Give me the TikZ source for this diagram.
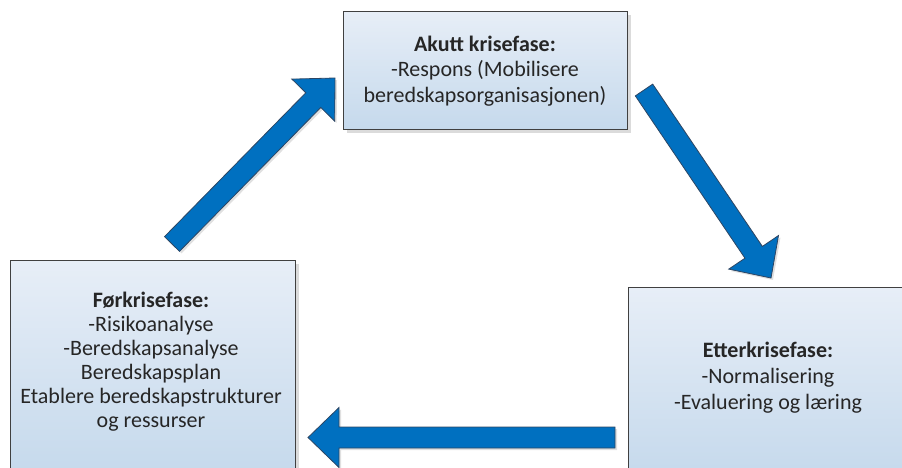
\documentclass[tikz,border=0pt]{standalone}
\usepackage{fontspec}
\setmainfont{Carlito}
\usetikzlibrary{calc,shadows}

\definecolor{arrowblue}{RGB}{0,112,192}
\definecolor{arrowedge}{RGB}{45,70,100}
\definecolor{boxtop}{RGB}{231,238,247}
\definecolor{boxbottom}{RGB}{197,217,236}
\definecolor{boxedge}{RGB}{64,64,64}

\tikzset{
  phase/.style={draw=boxedge, line width=1.3pt, top color=boxtop, bottom color=boxbottom,
    inner sep=0pt, anchor=north west,
    drop shadow={shadow xshift=3pt, shadow yshift=-3pt, fill=black!20, opacity=0.7}},
  phasetext/.style={align=center, text=black!85, inner sep=0pt},
  fat/.style={fill=arrowblue, draw=arrowedge, line width=0.8pt, line join=miter,
    drop shadow={shadow xshift=2pt, shadow yshift=-2pt, fill=black!20, opacity=0.6}}
}

% block arrow from a tail point to a tip point
\newcommand\fatarrow[2]{%
  \coordinate (hb) at ($(#2)!31pt!(#1)$);
  \draw[fat] ($(#1)!10.5pt!90:(#2)$) -- ($(hb)!10.5pt!-90:(#1)$)
    -- ($(hb)!30pt!-90:(#1)$) -- (#2) -- ($(hb)!30pt!90:(#1)$)
    -- ($(hb)!10.5pt!90:(#1)$) -- ($(#1)!10.5pt!-90:(#2)$) -- cycle;
}

\begin{document}
\begin{tikzpicture}[x=1pt, y=-1pt]
  \useasboundingbox (0,0) rectangle (902,468);
  \clip (0,0) rectangle (902,468);

  % phase boxes
  \node[phase, minimum width=284pt, minimum height=118pt] (acute) at (343,11) {};
  \node[phase, minimum width=285pt, minimum height=215pt] (pre) at (10,260) {};
  \node[phase, minimum width=285pt, minimum height=190pt] (post) at (628,287) {};

  % phase texts
  \node[phasetext, font=\fontsize{22}{25.5}\selectfont] (acutetext) at (485,71)
    {\textbf{Akutt krisefase:}\\-Respons (Mobilisere\\beredskapsorganisasjonen)};
  \node[phasetext, font=\fontsize{22}{24}\selectfont] (pretext) at (151,362)
    {\textbf{Førkrisefase:}\\-Risikoanalyse\\-Beredskapsanalyse\\Beredskapsplan\\Etablere beredskapstrukturer\\og ressurser};
  \node[phasetext, font=\fontsize{22}{26}\selectfont] (posttext) at (768,378)
    {\textbf{Etterkrisefase:}\\-Normalisering\\-Evaluering og læring};

  % cycle arrows
  \coordinate (a1tail) at (172,244);
  \coordinate (a1tip) at (335,78);
  \coordinate (a2tail) at (644,90);
  \coordinate (a2tip) at (771,278);
  \coordinate (a3tail) at (615,437.5);
  \coordinate (a3tip) at (308,437.5);
  \fatarrow{a1tail}{a1tip}
  \fatarrow{a2tail}{a2tip}
  \fatarrow{a3tail}{a3tip}
\end{tikzpicture}
\end{document}
